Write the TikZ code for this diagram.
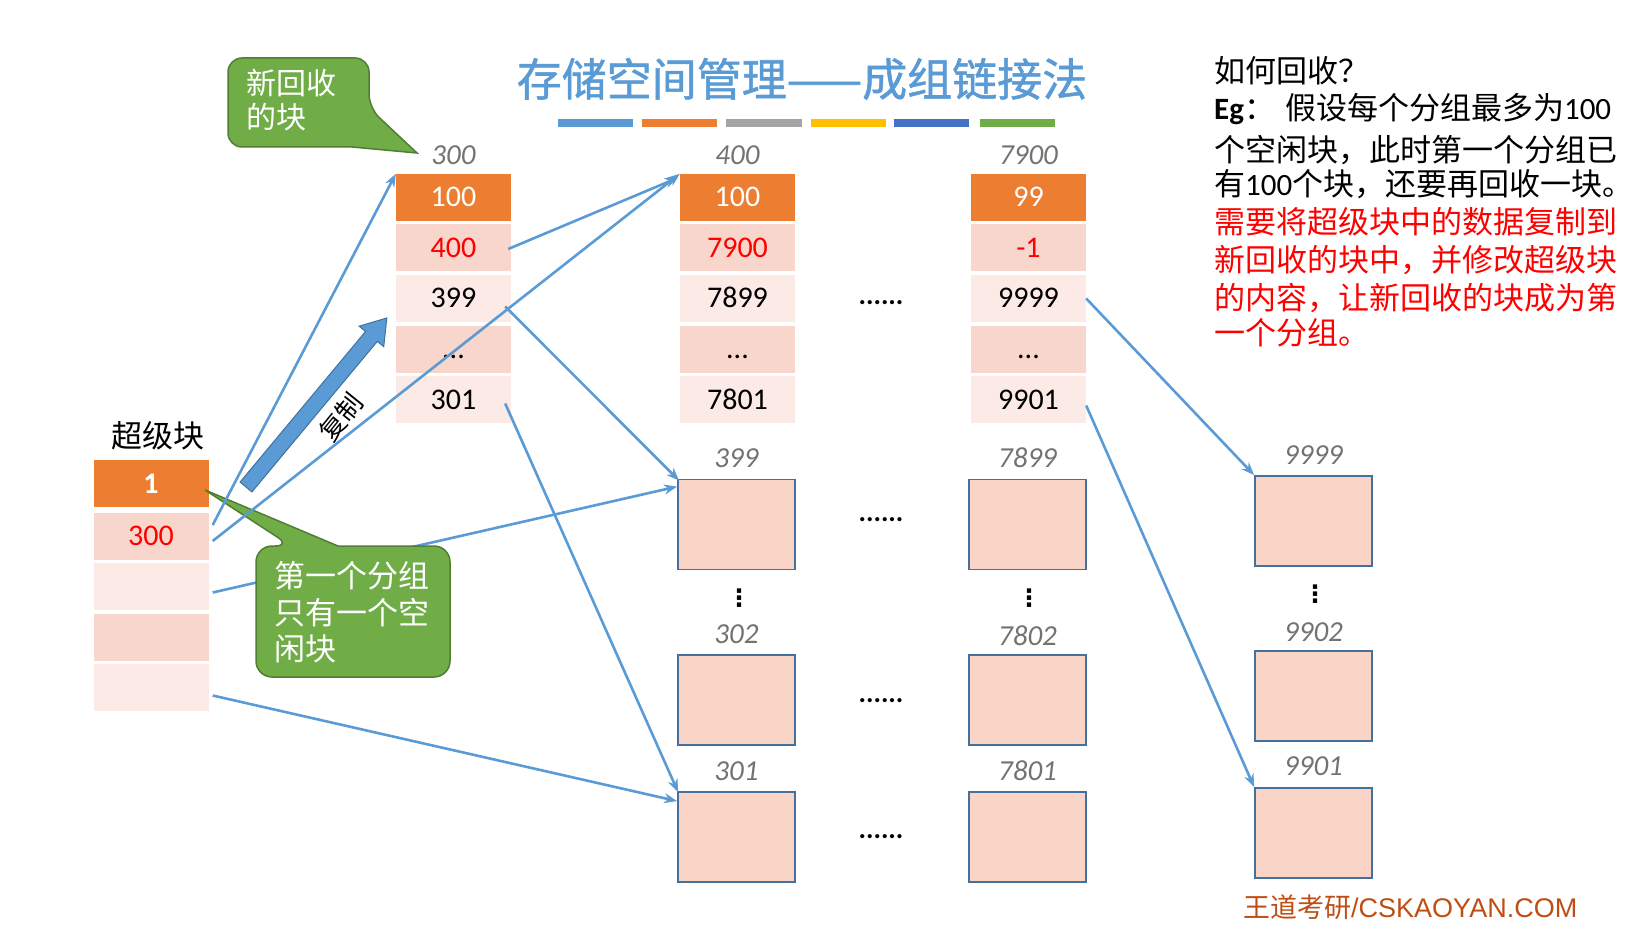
\documentclass[tikz,border=0pt]{standalone}
\usepackage{fontspec}
\setmainfont{Carlito}
\newfontfamily\cjk{Noto Sans CJK SC}
\newfontfamily\cjkb[FakeBold=1.2]{Noto Sans CJK SC}
\newfontfamily\symf{DejaVu Sans}
\newfontfamily\arialf{Liberation Sans}
\usetikzlibrary{arrows.meta,calc}
\definecolor{tblue}{HTML}{5B9BD5}
\definecolor{corange}{HTML}{ED7D31}
\definecolor{cgray}{HTML}{A5A5A5}
\definecolor{cyellow}{HTML}{FFC000}
\definecolor{cdblue}{HTML}{4472C4}
\definecolor{cgreen}{HTML}{70AD47}
\definecolor{cgreendark}{HTML}{507E32}
\definecolor{cdark}{HTML}{F8D6CB}
\definecolor{clight}{HTML}{FBEAE5}
\definecolor{bfill}{HTML}{FAD5C7}
\definecolor{bborder}{HTML}{41719C}
\definecolor{lgray}{HTML}{767171}
\definecolor{cred}{HTML}{FF0000}
\definecolor{wm}{HTML}{BF4E14}
\newcommand\myfs[1]{\fontsize{#1}{#1}\selectfont}
\begin{document}
\begin{tikzpicture}[x=1pt,y=-1pt,
  cell/.style={minimum width=115pt, minimum height=47pt, inner sep=0pt, text height=19pt, text depth=0pt, font=\myfs{30}},
  headc/.style={cell, fill=corange, text=white},
  darkc/.style={cell, fill=cdark},
  lightc/.style={cell, fill=clight},
  blk/.style={draw=bborder, line width=1.8pt, fill=bfill, minimum width=117pt, minimum height=90pt, inner sep=0pt},
  lab/.style={font=\itshape\myfs{29}, text=lgray},
  conn/.style={draw=tblue, line width=2.6pt, -{Stealth[length=13pt,width=10pt]}},
  callout/.style={fill=cgreen, draw=cgreendark, line width=1.5pt},
  ctext/.style={anchor=base west, inner sep=0pt, text=white, font=\cjk\myfs{30}},
  rtext/.style={anchor=base west, inner sep=0pt, font=\myfs{31}},
  dots/.style={font=\bfseries\myfs{28}, inner sep=0pt},
  vdots/.style={font=\symf\bfseries\myfs{24}, inner sep=0pt}
]
\useasboundingbox (0,0) rectangle (1641,925);

% title
\node[font=\cjkb\myfs{45}, text=tblue, anchor=base, inner sep=0pt] (title) at (802,96) {存储空间管理——成组链接法};
\fill[tblue] (558,119.5) rectangle (633,127.5);
\fill[corange] (642,119.5) rectangle (717,127.5);
\fill[cgray] (726,119.5) rectangle (802,127.5);
\fill[cyellow] (811,119.5) rectangle (886,127.5);
\fill[cdblue] (894,119.5) rectangle (969,127.5);
\fill[cgreen] (980,119.5) rectangle (1055,127.5);

% super block
\node[font=\cjk\myfs{31}, inner sep=0pt, anchor=base] (sbl) at (158,447) {超级块};
\node[headc, font=\bfseries\myfs{30}] (s1) at (151,483.5) {1};
\node[darkc, text=cred] (s2) at (151,536) {300};
\node[lightc] (s3) at (151,586.5) {};
\node[darkc] (s4) at (151,637.5) {};
\node[lightc] (s5) at (151,687.5) {};

% column 300
\node[lab] (l300) at (453.5,155) {300};
\node[headc] (a1) at (453.5,197.5) {100};
\node[darkc, text=cred] (a2) at (453.5,248) {400};
\node[lightc] (a3) at (453.5,298.5) {399};
\node[darkc] (a4) at (453.5,349) {...};
\node[lightc] (a5) at (453.5,399.5) {301};

% column 400
\node[lab] (l400) at (737.5,155) {400};
\node[headc] (b1) at (737.5,197.5) {100};
\node[darkc, text=cred] (b2) at (737.5,248) {7900};
\node[lightc] (b3) at (737.5,298.5) {7899};
\node[darkc] (b4) at (737.5,349) {...};
\node[lightc] (b5) at (737.5,399.5) {7801};

% column 7900
\node[lab] (l7900) at (1028.5,155) {7900};
\node[headc] (c1) at (1028.5,197.5) {99};
\node[darkc, text=cred] (c2) at (1028.5,248) {-1};
\node[lightc] (c3) at (1028.5,298.5) {9999};
\node[darkc] (c4) at (1028.5,349) {...};
\node[lightc] (c5) at (1028.5,399.5) {9901};

\node[dots] (d0) at (881,303) {......};

% blocks
\node[lab] (l399) at (736.5,458) {399};
\node[blk] (p399) at (736.5,524.5) {};
\node[vdots] (v1) at (739,598) {⋮};
\node[lab] (l302) at (736.5,634) {302};
\node[blk] (p302) at (736.5,700) {};
\node[lab] (l301) at (736.5,771) {301};
\node[blk] (p301) at (736.5,837) {};

\node[lab] (l7899) at (1027.5,458) {7899};
\node[blk] (q7899) at (1027.5,524.5) {};
\node[vdots] (v2) at (1029,598) {⋮};
\node[lab] (l7802) at (1027.5,636) {7802};
\node[blk] (q7802) at (1027.5,700) {};
\node[lab] (l7801) at (1027.5,771) {7801};
\node[blk] (q7801) at (1027.5,837) {};

\node[lab] (l9999) at (1313.5,455) {9999};
\node[blk] (r9999) at (1313.5,521) {};
\node[vdots] (v3) at (1315,594) {⋮};
\node[lab] (l9902) at (1313.5,632) {9902};
\node[blk] (r9902) at (1313.5,696) {};
\node[lab] (l9901) at (1313.5,766) {9901};
\node[blk] (r9901) at (1313.5,833) {};

\node[dots] (d1) at (881,520) {......};
\node[dots] (d2) at (881,701) {......};
\node[dots] (d3) at (881,837) {......};

% connectors drawn behind callout 2
\draw[conn] ($(s3.east)+(4,6)$) -- ($(p399.north west)+(0,8)$);
\draw[conn] ($(s5.east)+(4,8)$) -- ($(p301.north west)+(0,10)$);

% callout 2
\draw[callout] (256,610) [rounded corners=16pt] -- (256,546) -- (291,546) [sharp corners] -- (205,490) -- (338,546) [rounded corners=16pt] -- (450,546) -- (450,677) -- (256,677) -- cycle;
\node[ctext, font=\cjk\myfs{31}] (k1) at (274,587) {第一个分组};
\node[ctext, font=\cjk\myfs{31}] (k2) at (274,624) {只有一个空};
\node[ctext, font=\cjk\myfs{31}] (k3) at (274,660) {闲块};

% other connectors
\draw[conn] ($(s2.east)+(4,-11)$) -- (a1.north west);
\draw[conn] ($(s2.east)+(4,5)$) -- (b1.north west);
\draw[conn] ($(a2.east)+(-3,1)$) -- ($(b1.north west)+(-2,4)$);
\draw[conn] ($(a3.east)+(-6,8)$) -- ($(p399.north west)+(2,2)$);
\draw[conn] ($(a5.east)+(-6,4)$) -- ($(p301.north west)+(1,1)$);
\draw[conn] (c3.east) -- (r9999.north west);
\draw[conn] ($(c5.east)+(0,6)$) -- (r9901.north west);

% copy arrow
\begin{scope}[shift={(246,487)}, rotate=50.2]
\draw[fill=tblue, draw=bborder, line width=1pt] (0,-7.7) -- (196,-7.7) -- (196,-16) -- (220,0) -- (196,16) -- (196,7.7) -- (0,7.7) -- cycle;
\end{scope}
\node[rotate=51, font=\cjk\myfs{26}, inner sep=0pt] (copy) at (341,417) {复制};

% callout 1
\draw[callout] (228,100) [rounded corners=14pt] -- (228,58) -- (369,58) -- (369,108) [sharp corners] -- (417,153) -- (352,147) [rounded corners=14pt] -- (228,147) -- cycle;
\node[ctext] (n1) at (246,95) {新回收};
\node[ctext] (n2) at (246,129) {的块};

% right text
\node[rtext] (t1) at (1214,82.5) {\cjk 如何回收？};
\node[rtext] (t2) at (1214,119.5) {{\bfseries Eg}{\cjk ：}\hspace{10pt}{\cjk 假设每个分组最多为}100};
\node[rtext] (t3) at (1214,161.5) {\cjk 个空闲块，此时第一个分组已};
\node[rtext] (t4) at (1214,195.5) {{\cjk 有}100{\cjk 个块，还要再回收一块。}};
\node[rtext, text=cred] (t5) at (1214,233.5) {\cjk 需要将超级块中的数据复制到};
\node[rtext, text=cred] (t6) at (1214,271.5) {\cjk 新回收的块中，并修改超级块};
\node[rtext, text=cred] (t7) at (1214,309.5) {\cjk 的内容，让新回收的块成为第};
\node[rtext, text=cred] (t8) at (1214,344.5) {\cjk 一个分组。};

% watermark
\node[anchor=base west, inner sep=0pt, text=wm, font=\myfs{27}] (wmk) at (1243,917) {{\cjk 王道考研}{\arialf /CSKAOYAN.COM}};
\end{tikzpicture}
\end{document}
